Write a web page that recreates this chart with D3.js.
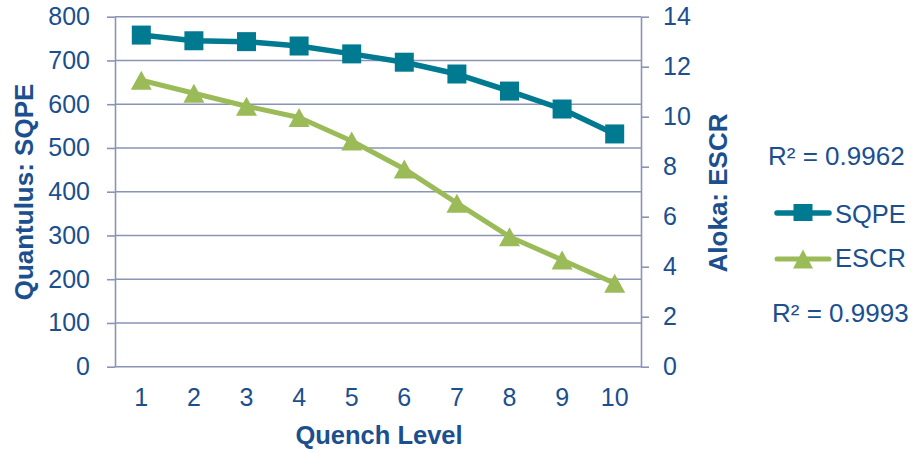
<!DOCTYPE html>
<html>
<head>
<meta charset="utf-8">
<script src="https://cdn.jsdelivr.net/npm/d3@7"></script>
<style>
  html, body { margin: 0; padding: 0; background: #ffffff; }
  svg { display: block; font-family: "Liberation Sans", Arial, sans-serif; }
</style>
</head>
<body>
<svg id="chart" width="913" height="453"></svg>
<script>
// Quench level categories
const levels = [1, 2, 3, 4, 5, 6, 7, 8, 9, 10];
// Quantulus SQPE (left axis)
const sqpe = [758, 745, 743, 733, 715, 696, 669, 630, 589, 532];
// Aloka ESCR (right axis)
const escr = [11.46, 10.94, 10.42, 9.97, 9.03, 7.91, 6.54, 5.20, 4.27, 3.34];
// Axis ticks
const leftTicks = [0, 100, 200, 300, 400, 500, 600, 700, 800];
const rightTicks = [0, 2, 4, 6, 8, 10, 12, 14];
// Regression fit labels
const r2Labels = ["R\u00B2 = 0.9962", "R\u00B2 = 0.9993"];
const seriesNames = ["SQPE", "ESCR"];

const textColor = "#1b4f8e";
const axisColor = "#8a94b6";
const sqpeColor = "#007a91";
const escrColor = "#9bbb59";

const svg = d3.select("#chart");
const plotLeft = 115, plotRight = 641, plotTop = 16.7, plotBottom = 366.7;

const x = d3.scaleBand().domain(levels).range([plotLeft, plotRight]).padding(0);
const cx = d => x(d) + x.bandwidth() / 2;
const yL = d3.scaleLinear().domain([0, 800]).range([plotBottom, plotTop]);
const yR = d3.scaleLinear().domain([0, 14]).range([plotBottom, plotTop]);

// Horizontal gridlines from the left axis
svg.append("g")
  .selectAll("line")
  .data(leftTicks)
  .join("line")
  .attr("x1", plotLeft).attr("x2", plotRight)
  .attr("y1", d => yL(d)).attr("y2", d => yL(d))
  .attr("stroke", axisColor).attr("stroke-width", 1.6);

function styleAxis(g) {
  g.select(".domain").attr("stroke", axisColor).attr("stroke-width", 1.6);
  g.selectAll(".tick line").attr("stroke", axisColor).attr("stroke-width", 1.6);
  g.selectAll(".tick text").attr("fill", textColor)
    .style("font-size", "25px")
    .style("font-family", "'Liberation Sans', Arial, sans-serif");
}

// Left axis
svg.append("g")
  .attr("transform", `translate(${plotLeft},0)`)
  .call(d3.axisLeft(yL).tickValues(leftTicks).tickSize(8).tickSizeOuter(0).tickPadding(17))
  .call(styleAxis);

// Right axis
svg.append("g")
  .attr("transform", `translate(${plotRight},0)`)
  .call(d3.axisRight(yR).tickValues(rightTicks).tickSize(8).tickSizeOuter(0).tickPadding(14))
  .call(styleAxis);

// Bottom axis (labels only; the baseline is the zero gridline)
svg.append("g")
  .attr("transform", `translate(0,${plotBottom})`)
  .call(d3.axisBottom(x).tickSize(0).tickPadding(22))
  .call(styleAxis)
  .call(g => g.select(".domain").remove());

// Axis titles
svg.append("text")
  .attr("transform", "translate(33,192) rotate(-90)")
  .attr("text-anchor", "middle")
  .attr("fill", textColor)
  .style("font-size", "26px").style("font-weight", "bold")
  .text("Quantulus: SQPE");

svg.append("text")
  .attr("transform", "translate(727,193) rotate(-90)")
  .attr("text-anchor", "middle")
  .attr("fill", textColor)
  .style("font-size", "26px").style("font-weight", "bold")
  .text("Aloka: ESCR");

svg.append("text")
  .attr("x", 379).attr("y", 444)
  .attr("text-anchor", "middle")
  .attr("fill", textColor)
  .style("font-size", "25.5px").style("font-weight", "bold")
  .text("Quench Level");

// Series lines
const lineL = d3.line().x((d, i) => cx(levels[i])).y(d => yL(d));
const lineR = d3.line().x((d, i) => cx(levels[i])).y(d => yR(d));

svg.append("path").datum(sqpe)
  .attr("d", lineL).attr("fill", "none")
  .attr("stroke", sqpeColor).attr("stroke-width", 5.5).attr("stroke-linejoin", "round");

svg.append("path").datum(escr)
  .attr("d", lineR).attr("fill", "none")
  .attr("stroke", escrColor).attr("stroke-width", 5).attr("stroke-linejoin", "round");

// Markers
const sq = 19;
function trianglePath(w, h) {
  return `M0,${-h / 2}L${w / 2},${h / 2}L${-w / 2},${h / 2}Z`;
}

svg.append("g").selectAll("rect")
  .data(sqpe)
  .join("rect")
  .attr("x", (d, i) => cx(levels[i]) - sq / 2)
  .attr("y", d => yL(d) - sq / 2)
  .attr("width", sq).attr("height", sq)
  .attr("fill", sqpeColor);

svg.append("g").selectAll("path")
  .data(escr)
  .join("path")
  .attr("transform", (d, i) => `translate(${cx(levels[i])},${yR(d)})`)
  .attr("d", trianglePath(21, 19))
  .attr("fill", escrColor);

// Legend
const legend = svg.append("g");
legend.append("text")
  .attr("x", 768).attr("y", 165)
  .attr("fill", textColor).style("font-size", "26px")
  .text(r2Labels[0]);
legend.append("text")
  .attr("x", 772).attr("y", 322)
  .attr("fill", textColor).style("font-size", "26px")
  .text(r2Labels[1]);

const legendRows = [
  { name: seriesNames[0], color: sqpeColor, y: 213, ty: 223, marker: "square", w: 5.5 },
  { name: seriesNames[1], color: escrColor, y: 259, ty: 267, marker: "triangle", w: 5 }
];
legendRows.forEach(r => {
  legend.append("line")
    .attr("x1", 777).attr("x2", 829)
    .attr("y1", r.y).attr("y2", r.y)
    .attr("stroke", r.color).attr("stroke-width", r.w).attr("stroke-linecap", "round");
  if (r.marker === "square") {
    legend.append("rect")
      .attr("x", 803 - 9.5).attr("y", r.y - 9)
      .attr("width", 19).attr("height", 17)
      .attr("fill", r.color);
  } else {
    legend.append("path")
      .attr("transform", `translate(803,${r.y})`)
      .attr("d", trianglePath(20, 19))
      .attr("fill", r.color);
  }
  legend.append("text")
    .attr("x", 835).attr("y", r.ty)
    .attr("fill", textColor).style("font-size", "25.5px")
    .text(r.name);
});
</script>
</body>
</html>
